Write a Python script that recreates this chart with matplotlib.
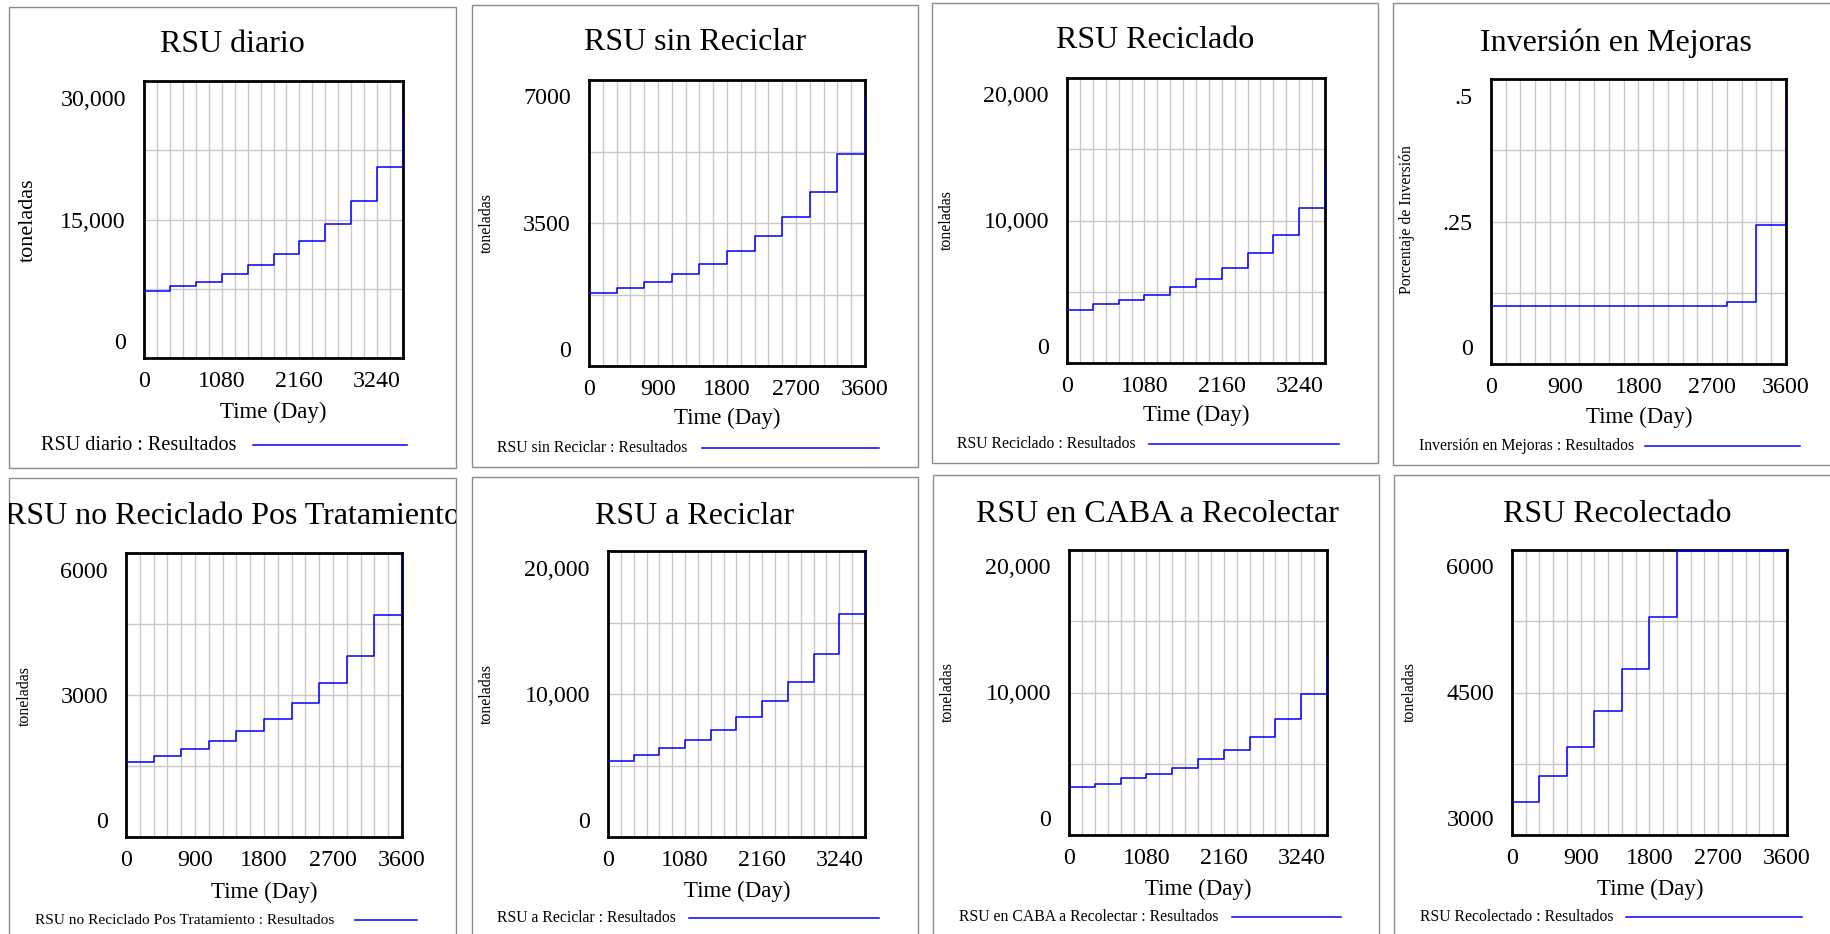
import matplotlib
matplotlib.use('Agg')
import matplotlib.pyplot as plt
from matplotlib.patches import Rectangle
from matplotlib.lines import Line2D
from matplotlib.ticker import MultipleLocator
from matplotlib.transforms import ScaledTranslation

plt.rcParams['font.family'] = ['Liberation Serif', 'DejaVu Serif']

W, H = 1831, 934

# tiempos de cambio de cada escalón (días)
dias = [0, 360, 720, 1080, 1440, 1800, 2160, 2520, 2880, 3240, 3600]

rsu_diario = [7220, 7760, 8230, 9130, 10040, 11260, 12640, 14550, 17040, 20690, 26350]
rsu_sin_reciclar = [1780, 1900, 2050, 2250, 2490, 2820, 3170, 3640, 4270, 5200, 6580]
rsu_reciclado = [3740, 4120, 4440, 4800, 5330, 5920, 6690, 7720, 8960, 10880, 13870]
inversion_mejoras = [0.102, 0.102, 0.102, 0.102, 0.102, 0.102, 0.102, 0.102, 0.109, 0.243, 0.463]
rsu_no_reciclado_pos = [1580, 1710, 1850, 2030, 2230, 2500, 2840, 3250, 3820, 4680, 5910]
rsu_a_reciclar = [5330, 5750, 6190, 6780, 7480, 8360, 9490, 10860, 12800, 15610, 19770]
rsu_caba_recolectar = [3370, 3600, 3980, 4300, 4730, 5310, 5970, 6880, 8120, 9870, 12490]
rsu_recolectado = [3350, 3620, 3930, 4310, 4750, 5290, 5990, 5990, 5990, 5990, 5990]

ticks_1080 = [0, 1080, 2160, 3240]
ticks_900 = [0, 900, 1800, 2700, 3600]

paneles = [
    dict(titulo='RSU diario', ylabel='toneladas', valores=rsu_diario,
         ylim=(0, 30000), yticklabels=['0', '15,000', '30,000'], xticks=ticks_1080),
    dict(titulo='RSU sin Reciclar', ylabel='toneladas', valores=rsu_sin_reciclar,
         ylim=(0, 7000), yticklabels=['0', '3500', '7000'], xticks=ticks_900),
    dict(titulo='RSU Reciclado', ylabel='toneladas', valores=rsu_reciclado,
         ylim=(0, 20000), yticklabels=['0', '10,000', '20,000'], xticks=ticks_1080),
    dict(titulo='Inversión en Mejoras', ylabel='Porcentaje de Inversión', valores=inversion_mejoras,
         ylim=(0, 0.5), yticklabels=['0', '.25', '.5'], xticks=ticks_900),
    dict(titulo='RSU no Reciclado Pos Tratamiento', ylabel='toneladas', valores=rsu_no_reciclado_pos,
         ylim=(0, 6000), yticklabels=['0', '3000', '6000'], xticks=ticks_900),
    dict(titulo='RSU a Reciclar', ylabel='toneladas', valores=rsu_a_reciclar,
         ylim=(0, 20000), yticklabels=['0', '10,000', '20,000'], xticks=ticks_1080),
    dict(titulo='RSU en CABA a Recolectar', ylabel='toneladas', valores=rsu_caba_recolectar,
         ylim=(0, 20000), yticklabels=['0', '10,000', '20,000'], xticks=ticks_1080),
    dict(titulo='RSU Recolectado', ylabel='toneladas', valores=rsu_recolectado,
         ylim=(3000, 6000), yticklabels=['3000', '4500', '6000'], xticks=ticks_900),
]

# posiciones en pixeles: marco (izq, arriba, der, abajo), ejes, titulo, ylabel, xlabel,
# leyenda (x texto, y, x0 linea, x1 linea), tamanos de ylabel y leyenda
layout = [
    dict(marco=(9, 7, 456, 468), ejes=(144, 81, 403, 358), titulo=(232, 45),
         ylab=(28, 220), xlab=(273, 412), ley=(41, 445, 253, 407), fs_ylab=16, fs_ley=14.5),
    dict(marco=(472, 5, 918, 467), ejes=(589, 80, 865, 366), titulo=(695, 43),
         ylab=(487, 223), xlab=(727, 418), ley=(497, 448, 702, 879), fs_ylab=11.4, fs_ley=11.3),
    dict(marco=(932, 3, 1378, 463), ejes=(1067, 78, 1325, 363), titulo=(1155, 41),
         ylab=(947, 220), xlab=(1196, 415), ley=(957, 444, 1149, 1339), fs_ylab=11.4, fs_ley=11.3),
    dict(marco=(1393, 3, 1840, 465), ejes=(1491, 79, 1786, 364), titulo=(1616, 43),
         ylab=(1407, 220), xlab=(1639, 417), ley=(1419, 446, 1645, 1800), fs_ylab=11.3, fs_ley=11.3),
    dict(marco=(9, 478, 456, 945), ejes=(126, 553, 402, 837), titulo=(233, 516),
         ylab=(25, 696), xlab=(264, 892), ley=(35, 920, 355, 417), fs_ylab=11.4, fs_ley=11.1),
    dict(marco=(472, 477, 918, 945), ejes=(608, 551, 865, 837), titulo=(695, 516),
         ylab=(487, 694), xlab=(737, 891), ley=(497, 918, 689, 879), fs_ylab=11.4, fs_ley=11.3),
    dict(marco=(933, 475, 1379, 945), ejes=(1069, 550, 1327, 835), titulo=(1157, 514),
         ylab=(948, 692), xlab=(1198, 889), ley=(959, 917, 1232, 1341), fs_ylab=11.4, fs_ley=11.3),
    dict(marco=(1394, 475, 1840, 945), ejes=(1512, 550, 1787, 835), titulo=(1617, 514),
         ylab=(1410, 692), xlab=(1650, 889), ley=(1420, 917, 1626, 1802), fs_ylab=11.4, fs_ley=11.3),
]

AZUL = '#0000ff'


def fx(x):
    return x / W


def fy(y):
    return 1 - y / H


fig = plt.figure(figsize=(W / 100, H / 100), dpi=100)

for p, lay in zip(paneles, layout):
    fl, ft, fr, fb = lay['marco']
    marco = Rectangle((fx(fl), fy(fb)), fx(fr) - fx(fl), fy(ft) - fy(fb),
                      transform=fig.transFigure, fill=False, edgecolor='#8c8c8c', lw=1.0)
    fig.add_artist(marco)

    al, at, ar, ab = lay['ejes']
    ax = fig.add_axes([fx(al), fy(ab), fx(ar) - fx(al), fy(at) - fy(ab)])
    ax.step(dias, p['valores'], where='post', color=AZUL, lw=1.1, zorder=3)

    ymin, ymax = p['ylim']
    ax.set_xlim(0, 3600)
    ax.set_ylim(ymin, ymax)
    ax.set_xticks(p['xticks'])
    ax.set_xticklabels([str(t) for t in p['xticks']])
    ax.xaxis.set_minor_locator(MultipleLocator(180))
    ax.set_yticks([ymin, (ymin + ymax) / 2, ymax])
    ax.set_yticklabels(p['yticklabels'])
    ax.yaxis.set_minor_locator(MultipleLocator((ymax - ymin) / 4))
    ax.grid(True, which='both', color='#c8c8c8', lw=1.0)
    ax.tick_params(which='both', length=0)
    ax.tick_params(axis='x', pad=9.5, labelsize=17.3)
    ax.tick_params(axis='y', pad=13, labelsize=17.3)
    for s in ax.spines.values():
        s.set_linewidth(2.0)
        s.set_color('black')

    # etiquetas extremas del eje y metidas hacia dentro, al estilo Vensim
    yl = ax.get_yticklabels()
    yl[0].set_va('bottom')
    yl[0].set_transform(yl[0].get_transform() + ScaledTranslation(0, 4 / 100, fig.dpi_scale_trans))
    yl[-1].set_va('top')
    yl[-1].set_transform(yl[-1].get_transform() + ScaledTranslation(0, -8.5 / 100, fig.dpi_scale_trans))

    tx, ty = lay['titulo']
    fig.text(fx(tx), fy(ty), p['titulo'], ha='center', va='center', fontsize=23, clip_path=marco)

    lx, ly = lay['ylab']
    fig.text(fx(lx), fy(ly), p['ylabel'], rotation=90, ha='center', va='center', fontsize=lay['fs_ylab'])

    xx, xy = lay['xlab']
    fig.text(fx(xx), fy(xy), 'Time (Day)', ha='center', va='center', fontsize=16.5)

    gx, gy, g0, g1 = lay['ley']
    fig.text(fx(gx), fy(gy), p['titulo'] + ' : Resultados', ha='left', va='center', fontsize=lay['fs_ley'])
    fig.add_artist(Line2D([fx(g0), fx(g1)], [fy(gy), fy(gy)], transform=fig.transFigure, color=AZUL, lw=1.1))

fig.savefig('out.png', dpi=100)
